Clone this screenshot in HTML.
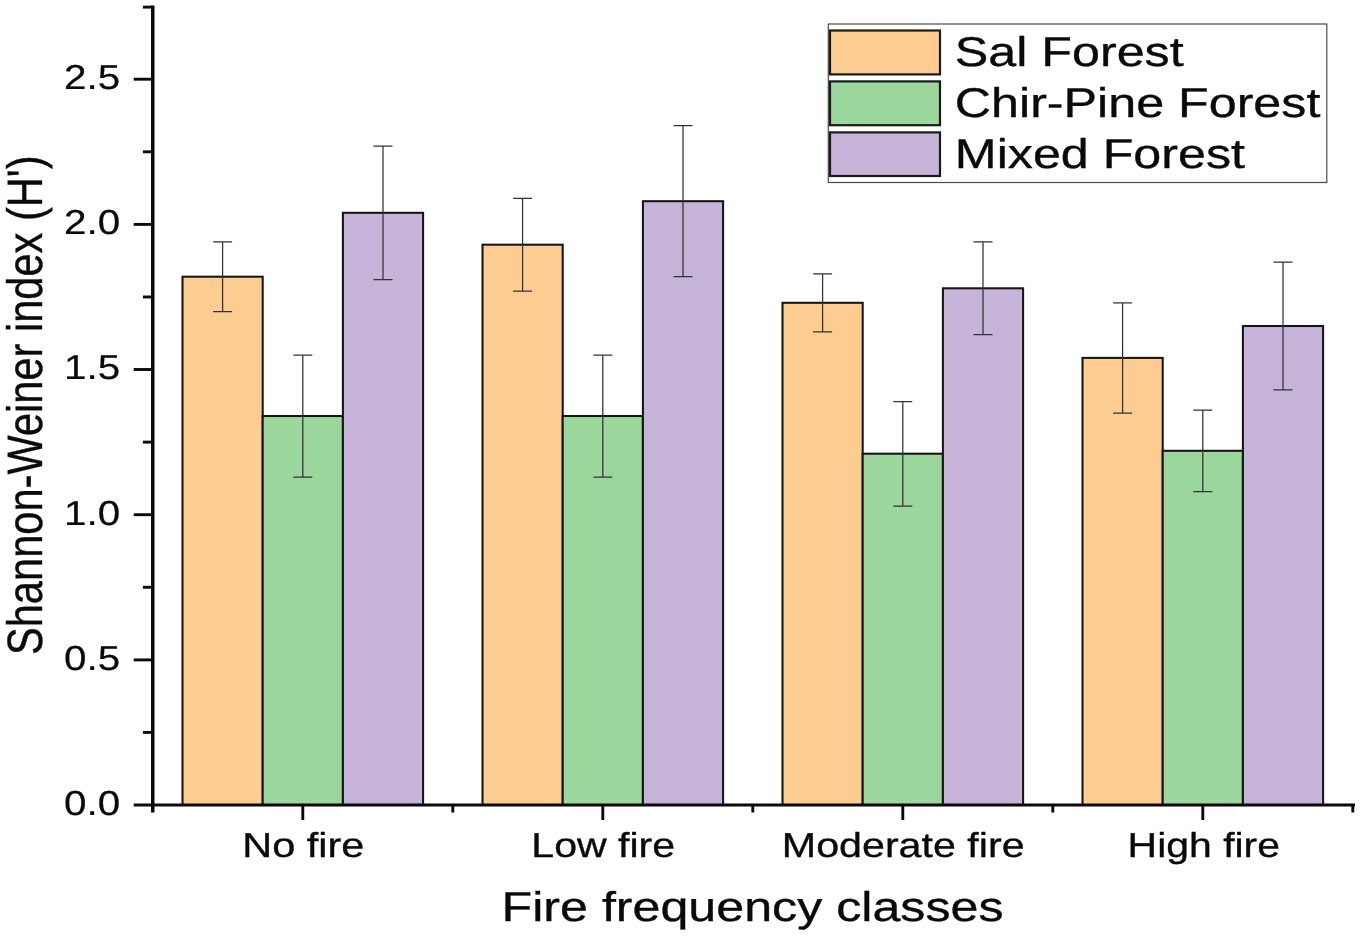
<!DOCTYPE html>
<html lang="en">
<head>
<meta charset="utf-8">
<title>Shannon-Weiner index by fire frequency class</title>
<style>
html,body{margin:0;padding:0;background:#fff;}
body{width:1361px;height:936px;overflow:hidden;}
svg{display:block;}
text{text-rendering:geometricPrecision;font-family:"Liberation Sans",sans-serif;fill:#0a0a0a;stroke:#0a0a0a;stroke-width:0.35px;}
</style>
</head>
<body>
<svg width="1361" height="936" viewBox="0 0 1361 936">
<rect x="0" y="0" width="1361" height="936" fill="#ffffff"/>
<g stroke="#141414" stroke-width="2.05" stroke-linejoin="miter">
<rect x="182.5" y="276.7" width="80.2" height="528.3" fill="#FDCC90"/>
<rect x="262.7" y="416.0" width="80.2" height="389.0" fill="#9BD69C"/>
<rect x="342.9" y="212.8" width="80.2" height="592.2" fill="#C5B3D8"/>
<rect x="482.5" y="244.7" width="80.2" height="560.3" fill="#FDCC90"/>
<rect x="562.7" y="416.0" width="80.2" height="389.0" fill="#9BD69C"/>
<rect x="642.9" y="201.2" width="80.2" height="603.8" fill="#C5B3D8"/>
<rect x="782.5" y="302.8" width="80.2" height="502.2" fill="#FDCC90"/>
<rect x="862.7" y="453.7" width="80.2" height="351.3" fill="#9BD69C"/>
<rect x="942.9" y="288.3" width="80.2" height="516.7" fill="#C5B3D8"/>
<rect x="1082.5" y="357.9" width="80.2" height="447.1" fill="#FDCC90"/>
<rect x="1162.7" y="450.8" width="80.2" height="354.2" fill="#9BD69C"/>
<rect x="1242.9" y="326.0" width="80.2" height="479.0" fill="#C5B3D8"/>
</g>
<g stroke="#323232" stroke-width="1.25" fill="none">
<path d="M222.6 241.8V311.5M213.1 241.8H232.1M213.1 311.5H232.1"/>
<path d="M302.8 355.0V477.0M293.3 355.0H312.3M293.3 477.0H312.3"/>
<path d="M383.0 146.0V279.6M373.5 146.0H392.5M373.5 279.6H392.5"/>
<path d="M522.6 198.3V291.2M513.1 198.3H532.1M513.1 291.2H532.1"/>
<path d="M602.8 355.0V477.0M593.3 355.0H612.3M593.3 477.0H612.3"/>
<path d="M683.0 125.7V276.7M673.5 125.7H692.5M673.5 276.7H692.5"/>
<path d="M822.6 273.8V331.8M813.1 273.8H832.1M813.1 331.8H832.1"/>
<path d="M902.8 401.5V506.0M893.3 401.5H912.3M893.3 506.0H912.3"/>
<path d="M983.0 241.8V334.7M973.5 241.8H992.5M973.5 334.7H992.5"/>
<path d="M1122.6 302.8V413.1M1113.1 302.8H1132.1M1113.1 413.1H1132.1"/>
<path d="M1202.8 410.2V491.5M1193.3 410.2H1212.3M1193.3 491.5H1212.3"/>
<path d="M1283.0 262.1V389.9M1273.5 262.1H1292.5M1273.5 389.9H1292.5"/>
</g>
<g stroke="#0a0a0a" stroke-width="2.9" fill="none" stroke-linecap="butt">
<path stroke-width="3.5" d="M152.75 5.6V812.6"/>
<path stroke-width="3.0" d="M133.7 805.05H1355"/>
<path d="M142.9 732.42H152.8"/>
<path d="M133.7 659.9H152.8"/>
<path d="M142.9 587.27H152.8"/>
<path d="M133.7 514.7H152.8"/>
<path d="M142.9 442.12H152.8"/>
<path d="M133.7 369.5H152.8"/>
<path d="M142.9 296.97H152.8"/>
<path d="M133.7 224.4H152.8"/>
<path d="M142.9 151.82H152.8"/>
<path d="M133.7 79.2H152.8"/>
<path d="M142.9 7.12H152.8"/>
<path d="M302.8 805.0V820"/>
<path d="M452.8 805.0V812.5"/>
<path d="M602.8 805.0V820"/>
<path d="M752.8 805.0V812.5"/>
<path d="M902.8 805.0V820"/>
<path d="M1052.8 805.0V812.5"/>
<path d="M1202.8 805.0V820"/>
<path d="M1352.8 805.0V812.5"/>
</g>
<text transform="translate(120.2 815.20) scale(1.169 1)" font-size="34.6" style="stroke-width:0.2px" text-anchor="end">0.0</text>
<text transform="translate(120.2 669.70) scale(1.169 1)" font-size="34.6" style="stroke-width:0.2px" text-anchor="end">0.5</text>
<text transform="translate(120.2 524.55) scale(1.169 1)" font-size="34.6" style="stroke-width:0.2px" text-anchor="end">1.0</text>
<text transform="translate(120.2 379.40) scale(1.169 1)" font-size="34.6" style="stroke-width:0.2px" text-anchor="end">1.5</text>
<text transform="translate(120.2 234.25) scale(1.169 1)" font-size="34.6" style="stroke-width:0.2px" text-anchor="end">2.0</text>
<text transform="translate(120.2 89.10) scale(1.169 1)" font-size="34.6" style="stroke-width:0.2px" text-anchor="end">2.5</text>
<text transform="translate(303.3 857.3) scale(1.2 1)" font-size="34.5" text-anchor="middle">No fire</text>
<text transform="translate(603.2 857.3) scale(1.19 1)" font-size="34.5" text-anchor="middle">Low fire</text>
<text transform="translate(903.2 857.3) scale(1.194 1)" font-size="34.5" text-anchor="middle">Moderate fire</text>
<text transform="translate(1203.8 857.3) scale(1.186 1)" font-size="34.5" text-anchor="middle">High fire</text>
<text transform="translate(752.5 921.1) scale(1.209 1)" font-size="41.5" text-anchor="middle">Fire frequency classes</text>
<text transform="translate(42.2 405.2) rotate(-90) scale(1 1.195)" font-size="41.6" style="stroke-width:0.3px" text-anchor="middle">Shannon-Weiner index (H')</text>
<rect x="828.3" y="24" width="498.5" height="158.5" fill="#fff" stroke="#4a4a4a" stroke-width="1.2"/>
<rect x="830" y="30.5" width="110" height="43.9" fill="#FDCC90" stroke="#1a1a1a" stroke-width="2.2"/>
<text transform="translate(954.8 66.4) scale(1.21 1)" font-size="41.5">Sal Forest</text>
<rect x="830" y="81.4" width="110" height="43.8" fill="#9BD69C" stroke="#1a1a1a" stroke-width="2.2"/>
<text transform="translate(954.8 117.2) scale(1.21 1)" font-size="41.5">Chir-Pine Forest</text>
<rect x="830" y="132.4" width="110" height="43.6" fill="#C5B3D8" stroke="#1a1a1a" stroke-width="2.2"/>
<text transform="translate(954.8 168.0) scale(1.21 1)" font-size="41.5">Mixed Forest</text>
</svg>
</body>
</html>
